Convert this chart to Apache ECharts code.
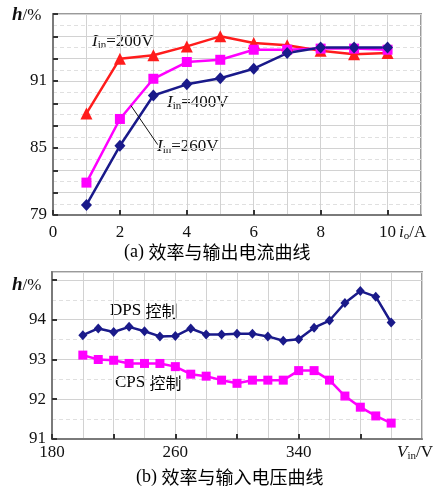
<!DOCTYPE html>
<html>
<head>
<meta charset="utf-8">
<script src="https://cdn.jsdelivr.net/npm/echarts@6/dist/echarts.min.js"></script>
<style>
  html, body { margin: 0; padding: 0; background: #fff; }
  #chart { width: 443px; height: 491px; }
</style>
</head>
<body>
<div id="chart"></div>
<script>
// (a) efficiency vs output current
const currentA = [1, 2, 3, 4, 5, 6, 7, 8, 9, 10];
const eff200V = [88.1, 93.0, 93.3, 94.1, 95.0, 94.4, 94.2, 93.7, 93.4, 93.5];
const eff260V = [81.9, 87.6, 91.2, 92.7, 92.9, 93.8, 93.8, 93.9, 93.9, 93.8];
const eff400V = [79.9, 85.2, 89.7, 90.7, 91.25, 92.1, 93.5, 94.0, 94.0, 94.0];
const yLabelsA = [79, 85, 91];

// (b) efficiency vs input voltage
const inputV = [200, 210, 220, 230, 240, 250, 260, 270, 280, 290, 300,
                310, 320, 330, 340, 350, 360, 370, 380, 390, 400];
const effDPS = [93.61, 93.78, 93.69, 93.82, 93.71, 93.58, 93.59, 93.78, 93.63, 93.63, 93.65,
                93.65, 93.58, 93.47, 93.51, 93.8, 93.98, 94.42, 94.72, 94.58, 93.93];
const effCPS = [93.11, 93.0, 92.98, 92.9, 92.9, 92.9, 92.82, 92.63, 92.58, 92.48, 92.4,
                92.48, 92.48, 92.48, 92.72, 92.72, 92.48, 92.08, 91.8, 91.58, 91.4];
const xLabelsB = [180, 260, 340];
const yLabelsB = [91, 92, 93, 94];

const SERIF = '"Liberation Serif", "DejaVu Serif", serif';
const CJK = '"Noto Sans CJK SC", sans-serif';
const RED = '#ff1c1c', MAG = '#ff00ff', NAVY = '#1a1a8a';
const GRID_LINE = '#d2d2d2';

function pairs(xs, ys) { return xs.map((x, i) => [x, ys[i]]); }

const axisLabelStyle = { color: '#111', fontFamily: SERIF, fontSize: 17 };
const axisLineStyle = { show: true, lineStyle: { color: '#7a7a7a', width: 2 } };
const tickStyle = { show: true, inside: true, length: 5, lineStyle: { color: '#333', width: 2 } };

const subRich = {
  i: { fontFamily: SERIF, fontSize: 17, fontStyle: 'italic', color: '#111' },
  s: { fontFamily: SERIF, fontSize: 11, color: '#111', padding: [7, 0, 0, 0] },
  n: { fontFamily: SERIF, fontSize: 17, color: '#111' },
  h: { fontFamily: SERIF, fontSize: 19, fontStyle: 'italic', fontWeight: 'bold', color: '#111' }
};

function richText(x, y, text) {
  return { type: 'text', left: x, top: y, style: { text: text, rich: subRich, fill: '#111' } };
}

const chart = echarts.init(document.getElementById('chart'), null, { renderer: 'canvas' });

chart.setOption({
  animation: false,
  backgroundColor: '#fff',
  grid: [
    { left: 53, top: 14, width: 368, height: 201, show: true, borderColor: '#9a9a9a', borderWidth: 2 },
    { left: 52, top: 272, width: 370, height: 167, show: true, borderColor: '#9a9a9a', borderWidth: 2 }
  ],
  xAxis: [
    {
      gridIndex: 0, type: 'value', min: 0, max: 11, interval: 2,
      axisLine: axisLineStyle, axisTick: tickStyle,
      axisLabel: Object.assign({ margin: 9, showMaxLabel: false }, axisLabelStyle),
      splitLine: { show: true, lineStyle: { color: GRID_LINE, width: 1 } },
      minorTick: { show: false, splitNumber: 2 },
      minorSplitLine: { show: true, lineStyle: { color: GRID_LINE, width: 1 } }
    },
    {
      gridIndex: 1, type: 'value', min: 180, max: 420, interval: 40,
      axisLine: axisLineStyle, axisTick: tickStyle,
      axisLabel: Object.assign({
        margin: 5, showMaxLabel: false,
        formatter: v => xLabelsB.includes(v) ? String(v) : ''
      }, axisLabelStyle),
      splitLine: { show: true, lineStyle: { color: GRID_LINE, width: 1 } },
      minorTick: { show: false, splitNumber: 2 },
      minorSplitLine: { show: true, lineStyle: { color: GRID_LINE, width: 1 } }
    }
  ],
  yAxis: [
    {
      gridIndex: 0, type: 'value', min: 79, max: 97, interval: 2,
      axisLine: axisLineStyle, axisTick: tickStyle,
      axisLabel: Object.assign({
        margin: 6,
        formatter: v => yLabelsA.includes(v) ? String(v) : ''
      }, axisLabelStyle),
      splitLine: { show: true, lineStyle: { color: GRID_LINE, width: 1 } },
      minorTick: { show: false, splitNumber: 2 },
      minorSplitLine: { show: true, lineStyle: { color: '#e0e0e0', width: 1, type: [4, 3] } }
    },
    {
      gridIndex: 1, type: 'value', min: 91, max: 95.2, interval: 1,
      axisLine: axisLineStyle, axisTick: tickStyle,
      axisLabel: Object.assign({
        margin: 6, showMaxLabel: false,
        formatter: v => yLabelsB.includes(v) ? String(v) : ''
      }, axisLabelStyle),
      splitLine: { show: true, lineStyle: { color: GRID_LINE, width: 1 } },
      minorTick: { show: false, splitNumber: 2 },
      minorSplitLine: { show: true, lineStyle: { color: '#e0e0e0', width: 1, type: [4, 3] } }
    }
  ],
  series: [
    {
      name: 'Iin=200V', type: 'line', xAxisIndex: 0, yAxisIndex: 0,
      data: pairs(currentA, eff200V),
      symbol: 'triangle', symbolSize: 12,
      lineStyle: { color: RED, width: 2.5 }, itemStyle: { color: RED }
    },
    {
      name: 'Iin=260V', type: 'line', xAxisIndex: 0, yAxisIndex: 0,
      data: pairs(currentA, eff260V),
      symbol: 'rect', symbolSize: 10,
      lineStyle: { color: MAG, width: 2.5 }, itemStyle: { color: MAG },
      markLine: {
        silent: true, symbol: 'none', label: { show: false },
        lineStyle: { color: '#111', width: 1, type: 'solid' },
        data: [[{ coord: [2.33, 88.8] }, { coord: [3.13, 85.3] }]]
      }
    },
    {
      name: 'Iin=400V', type: 'line', xAxisIndex: 0, yAxisIndex: 0,
      data: pairs(currentA, eff400V),
      symbol: 'diamond', symbolSize: [11, 12],
      lineStyle: { color: NAVY, width: 2.5 }, itemStyle: { color: NAVY }
    },
    {
      name: 'DPS', type: 'line', xAxisIndex: 1, yAxisIndex: 1,
      data: pairs(inputV, effDPS),
      symbol: 'diamond', symbolSize: [9, 10],
      lineStyle: { color: NAVY, width: 2.5 }, itemStyle: { color: NAVY }
    },
    {
      name: 'CPS', type: 'line', xAxisIndex: 1, yAxisIndex: 1,
      data: pairs(inputV, effCPS),
      symbol: 'rect', symbolSize: 9,
      lineStyle: { color: MAG, width: 2.5 }, itemStyle: { color: MAG }
    }
  ],
  graphic: [
    // axis names
    richText(12, 6, '{h|h}{n|/%}'),
    richText(12, 276, '{h|h}{n|/%}'),
    richText(399, 224, '{i|i}{s|o}{n|/A}'),
    richText(397, 444, '{i|V}{s|in}{n|/V}'),
    // series annotations
    richText(92, 33, '{i|I}{s|in}{n|=200V}'),
    richText(167, 94, '{i|I}{s|in}{n|=400V}'),
    richText(157, 138, '{i|I}{s|in}{n|=260V}'),
    {
      type: 'text', left: 110, top: 302,
      style: { text: '{n|DPS }{c|控制}', rich: { n: subRich.n, c: { fontFamily: CJK, fontSize: 16, color: '#111' } } }
    },
    {
      type: 'text', left: 115, top: 374,
      style: { text: '{n|CPS }{c|控制}', rich: { n: subRich.n, c: { fontFamily: CJK, fontSize: 16, color: '#111' } } }
    },
    // captions
    {
      type: 'text', left: 124, top: 243,
      style: { text: '{n|(a) }{c|效率与输出电流曲线}', rich: { n: { fontFamily: SERIF, fontSize: 18, color: '#111' }, c: { fontFamily: CJK, fontSize: 18, color: '#111' } } }
    },
    {
      type: 'text', left: 136, top: 468,
      style: { text: '{n|(b) }{c|效率与输入电压曲线}', rich: { n: { fontFamily: SERIF, fontSize: 18, color: '#111' }, c: { fontFamily: CJK, fontSize: 18, color: '#111' } } }
    }
  ]
});
</script>
</body>
</html>
